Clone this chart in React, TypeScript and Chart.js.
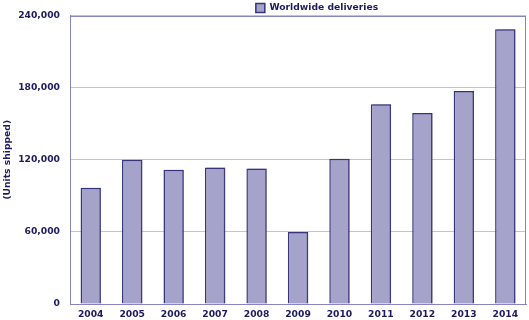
import React, { useEffect, useRef } from "react";
import { Chart, registerables } from "chart.js";

Chart.register(...registerables);

const categories = ["2004", "2005", "2006", "2007", "2008", "2009", "2010", "2011", "2012", "2013", "2014"];
const deliveries = [96700, 120000, 111700, 113600, 112800, 59800, 120800, 166100, 158800, 177200, 228600];
const yTicks = [0, 60000, 120000, 180000, 240000];
const seriesLabel = "Worldwide deliveries";
const yTitle = "(Units shipped)";

const NAVY = "#1c1b5e";
const FONT = "'DejaVu Sans', Verdana, sans-serif";
const FS = 9.2;

const frame = {
  id: "frame",
  afterLayout(chart: any) {
    if (chart.legend) {
      chart.legend.left += 53;
      chart.legend.right += 53;
      chart.legend.top += 7;
      chart.legend.bottom += 7;
    }
  },
  beforeDatasetDraw(chart: any) {
    const ctx = chart.ctx;
    ctx.save();
    ctx.shadowColor = "rgba(70,68,130,0.55)";
    ctx.shadowOffsetX = 2;
    ctx.shadowOffsetY = 0;
    ctx.shadowBlur = 0;
  },
  afterDatasetDraw(chart: any) {
    chart.ctx.restore();
  },
  afterDraw(chart: any) {
    const { ctx, chartArea } = chart;
    ctx.save();
    ctx.strokeStyle = "#8684c0";
    ctx.lineWidth = 1;
    ctx.strokeRect(Math.round(chartArea.left) + 0.5, Math.round(chartArea.top) + 0.5, Math.round(chartArea.right - chartArea.left) - 1, Math.round(chartArea.bottom - chartArea.top));
    ctx.restore();
  },
};

export default function App() {
  const ref = useRef<HTMLCanvasElement>(null);
  useEffect(() => {
    document.body.style.margin = "0";
    const chart = new Chart(ref.current!, {
      type: "bar",
      data: {
        labels: categories,
        datasets: [
          {
            label: seriesLabel,
            data: deliveries,
            backgroundColor: "#a5a3c9",
            borderColor: "#35347c",
            borderWidth: 1.5,
            barPercentage: 0.5,
            categoryPercentage: 0.98,
          },
        ],
      },
      options: {
        animation: false,
        responsive: false,
        maintainAspectRatio: false,
        layout: { padding: { left: 2, right: 3, top: -9, bottom: 1 } },
        plugins: {
          tooltip: { enabled: false },
          legend: {
            position: "top",
            labels: {
              boxWidth: 9,
              boxHeight: 9,
              padding: 3,
              color: NAVY,
              font: { family: FONT, size: FS, weight: "bold" },
            },
          },
        },
        scales: {
          x: {
            afterFit: (axis: any) => {
              axis.height = 15;
            },
            grid: { display: false, drawTicks: false },
            border: { color: "#8684c0" },
            ticks: { color: NAVY, font: { family: FONT, size: FS, weight: "bold" }, padding: 5 },
          },
          y: {
            min: 0,
            max: 240000,
            afterFit: (axis: any) => {
              axis.width = 68;
            },
            afterBuildTicks: (axis: any) => {
              axis.ticks = yTicks.map((v) => ({ value: v }));
            },
            grid: { color: "#c3c1e2", drawTicks: false },
            border: { color: "#8684c0" },
            ticks: {
              color: NAVY,
              font: { family: FONT, size: FS, weight: "bold" },
              padding: 10,
              callback: (v: any) => Number(v).toLocaleString("en-US"),
            },
            title: {
              display: true,
              text: yTitle,
              color: NAVY,
              font: { family: FONT, size: FS, weight: "bold" },
              padding: { top: 0, bottom: 5 },
            },
          },
        },
      },
      plugins: [frame],
    });
    return () => chart.destroy();
  }, []);
  return (
    <div style={{ position: "absolute", left: 0, top: 0, width: 529, height: 320 }}>
      <canvas ref={ref} width={529} height={320} style={{ width: 529, height: 320 }} />
    </div>
  );
}
